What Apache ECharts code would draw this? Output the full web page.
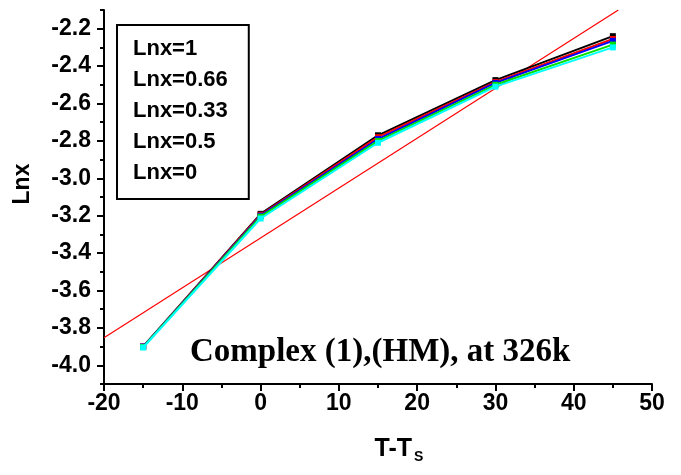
<!DOCTYPE html>
<html><head><meta charset="utf-8">
<script src="https://cdn.jsdelivr.net/npm/echarts@6/dist/echarts.min.js"></script>
<style>html,body{margin:0;padding:0;background:#fff}#c{width:681px;height:475px}</style>
</head><body><div id="c"></div>
<script>
const xValues = [-15, 0, 15, 30, 45];
const seriesNames = ['Lnx=1', 'Lnx=0.66', 'Lnx=0.33', 'Lnx=0.5', 'Lnx=0'];
const lnx1   = [-3.900, -3.190, -2.770, -2.475, -2.240];
const lnx066 = [-3.900, -3.195, -2.780, -2.485, -2.255];
const lnx033 = [-3.900, -3.200, -2.790, -2.490, -2.265];
const lnx05  = [-3.902, -3.205, -2.800, -2.500, -2.285];
const lnx0   = [-3.905, -3.215, -2.810, -2.510, -2.300];
const fitX = [-20, 45.7];
const fitY = [-3.853, -2.100];
const yMajorTicks = [-4.0, -3.8, -3.6, -3.4, -3.2, -3.0, -2.8, -2.6, -2.4, -2.2];
const yMinorTicks = [-4.1, -3.9, -3.7, -3.5, -3.3, -3.1, -2.9, -2.7, -2.5, -2.3, -2.1];
const colors = ['#000000', '#ff0000', '#0000ff', '#00e000', '#00ffff'];
const allSeries = [lnx1, lnx066, lnx033, lnx05, lnx0];

const chart = echarts.init(document.getElementById('c'));
const axisFont = {fontFamily: 'Liberation Sans', fontWeight: 'bold', fontSize: 23, color: '#000'};
const series = allSeries.map((vals, i) => ({
  name: seriesNames[i], type: 'line', xAxisIndex: 0, yAxisIndex: 0,
  data: xValues.map((x, j) => [x, vals[j]]),
  symbol: 'rect', symbolSize: 6, showSymbol: true,
  lineStyle: {color: colors[i], width: 2}, itemStyle: {color: colors[i]},
  z: 3 + i, animation: false
}));
series.push({
  name: 'fit', type: 'line', data: fitX.map((x, j) => [x, fitY[j]]),
  symbol: 'none', lineStyle: {color: '#ff0000', width: 1.2}, z: 2, animation: false
});
chart.setOption({
  animation: false,
  grid: {left: 104, right: 29, top: 10, bottom: 91},
  title: {text: 'Complex (1),(HM), at 326k', left: 185, top: 331,
    textStyle: {fontFamily: 'Liberation Serif', fontWeight: 'bold', fontSize: 33, color: '#000'}},
  legend: {
    data: seriesNames, orient: 'vertical', left: 117, top: 25,
    icon: 'none', itemWidth: 0, itemHeight: 10, itemGap: 9,
    padding: [13, 21, 15, 11], borderColor: '#000', borderWidth: 2,
    textStyle: {fontFamily: 'Liberation Sans', fontWeight: 'bold', fontSize: 22, lineHeight: 22, color: '#000'},
    selectedMode: false
  },
  xAxis: {
    type: 'value', min: -20, max: 50, interval: 10,
    name: '{a|T-T}{b|S}', nameLocation: 'middle', nameGap: 50,
    nameTextStyle: {padding: [0, 0, 0, 42], rich: {
      a: {fontFamily: 'Liberation Sans', fontWeight: 'bold', fontSize: 25, color: '#000'},
      b: {fontFamily: 'Liberation Sans', fontWeight: 'bold', fontSize: 14, color: '#000', padding: [16, 0, 0, 2]}
    }},
    axisLine: {show: true, onZero: false, lineStyle: {color: '#000', width: 2}},
    axisTick: {show: true, length: 7, lineStyle: {color: '#000', width: 2}},
    minorTick: {show: true, splitNumber: 2, length: 4, lineStyle: {color: '#000', width: 2}},
    axisLabel: Object.assign({margin: 8}, axisFont),
    splitLine: {show: false}
  },
  yAxis: [{
    type: 'value', min: -4.1, max: -2.1,
    name: 'Lnx', nameLocation: 'middle', nameGap: 70,
    nameTextStyle: {fontFamily: 'Liberation Sans', fontWeight: 'bold', fontSize: 23, color: '#000', padding: [0, 0, 0, 26]},
    axisLine: {show: true, onZero: false, lineStyle: {color: '#000', width: 2}},
    axisTick: {show: true, length: 7, customValues: yMajorTicks, lineStyle: {color: '#000', width: 2}},
    axisLabel: Object.assign({margin: 13, customValues: yMajorTicks, formatter: v => v.toFixed(1)}, axisFont),
    splitLine: {show: false}
  }, {
    type: 'value', min: -4.1, max: -2.1, position: 'left',
    axisLine: {show: false, onZero: false},
    axisTick: {show: true, length: 4, customValues: yMinorTicks, lineStyle: {color: '#000', width: 2}},
    axisLabel: {show: false, customValues: yMinorTicks},
    splitLine: {show: false}
  }],
  series: series
});
</script></body></html>
